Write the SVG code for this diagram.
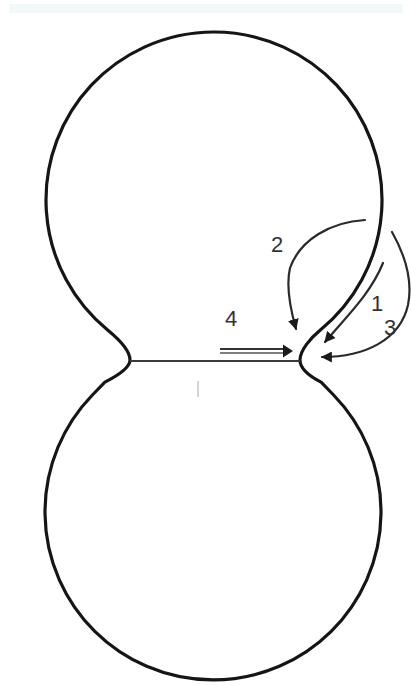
<svg xmlns="http://www.w3.org/2000/svg" width="411" height="685" viewBox="0 0 411 685">
<style>
.outline{fill:none;stroke:#151515;stroke-width:3.2;stroke-linecap:round;stroke-linejoin:round}
.arr{fill:none;stroke:#2a2a2a;stroke-width:2.2;stroke-linecap:round}
.lbl{font-family:"Liberation Sans",Arial,sans-serif;font-size:22px;fill:#333;text-anchor:middle}
</style>
<defs>
<marker id="ah" viewBox="0 0 10 10" refX="9" refY="5" markerWidth="5" markerHeight="5" orient="auto" markerUnits="strokeWidth">
<path d="M0,0 L10,5 L0,10 z" fill="#1a1a1a"/>
</marker>
</defs>
<rect width="411" height="685" fill="#ffffff"/>
<rect x="9" y="4" width="394" height="9" fill="#f3f9f9"/>
<g id="cell">
<path class="outline" d="M107.6,330 A168,168 0 1 1 320.4,330 C311.1,337.6 300,350 300,360 C300,368 309,376 321.1,382.1 L333.6,395 A168,168 0 1 1 92.4,395 L104.9,382.1 C117,376 130,368 130,360 C130,350 116.9,337.6 107.6,330 Z"/>
<line x1="130" y1="361" x2="300" y2="361" stroke="#3a3a3a" stroke-width="2"/>
<line x1="198" y1="381" x2="198" y2="397" stroke="#aaa" stroke-width="1"/>
</g>
<g id="connectors">
<path id="a1" class="arr" marker-end="url(#ah)" d="M383,263 C370,295 345,318 325,342"/>
<path id="a2" class="arr" marker-end="url(#ah)" d="M365,220 C330,222 300,240 290,268 C286,285 290,308 296,329"/>
<path id="a3" class="arr" marker-end="url(#ah)" d="M392,232 C405,255 413,280 408,305 C400,340 365,357 322,357"/>
<g id="a4">
<line x1="220" y1="349" x2="288" y2="349" stroke="#333" stroke-width="1.8"/>
<line x1="220" y1="353" x2="288" y2="353" stroke="#555" stroke-width="1.4"/>
<path d="M283,344.5 L293,351 L283,357.5 z" fill="#1a1a1a"/>
</g>
</g>
<g id="labels">
<text class="lbl" x="277" y="252">2</text>
<text class="lbl" x="377" y="311">1</text>
<text class="lbl" x="390" y="335">3</text>
<text class="lbl" x="231" y="326">4</text>
</g>
</svg>
